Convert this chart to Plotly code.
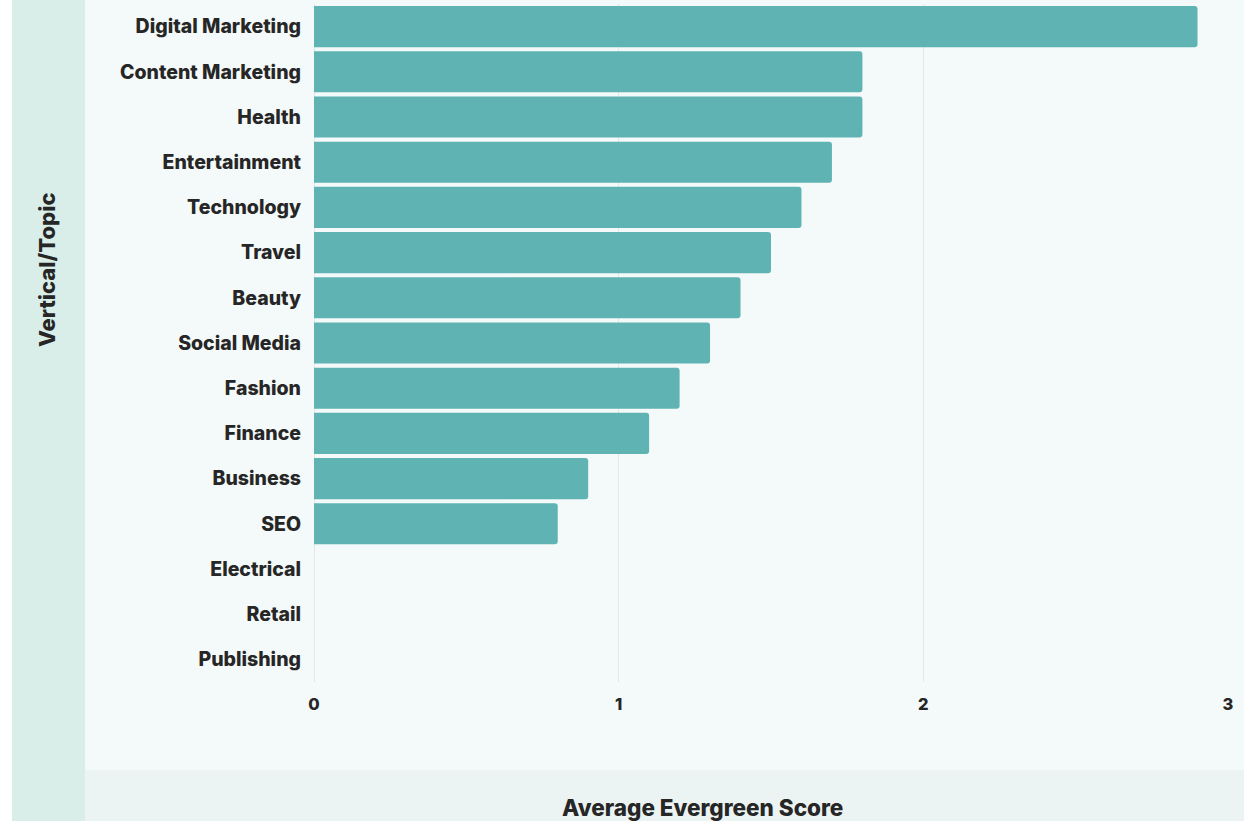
import plotly.graph_objects as go

# Average evergreen score per vertical/topic
topics = [
    "Digital Marketing", "Content Marketing", "Health", "Entertainment",
    "Technology", "Travel", "Beauty", "Social Media", "Fashion", "Finance",
    "Business", "SEO", "Electrical", "Retail", "Publishing",
]
scores = [2.9, 1.8, 1.8, 1.7, 1.6, 1.5, 1.4, 1.3, 1.2, 1.1, 0.9, 0.8, 0, 0, 0]
x_ticks = [0, 1, 2, 3]

BAR = "#5fb4b3"
TEXT = "#262626"
FONT = "Inter"

fig = go.Figure(
    go.Bar(
        x=scores,
        y=topics,
        orientation="h",
        marker=dict(color=BAR, cornerradius=3, line=dict(width=0)),
        hoverinfo="x+y",
    )
)

# Background panels: white strip, y-title band, x-title band
panels = [
    dict(x0=-0.40, x1=-0.3304, y0=-0.25, y1=1.05, color="#ffffff"),
    dict(x0=-0.3304, x1=-0.2505, y0=-0.25, y1=1.05, color="#daeee9"),
    dict(x0=-0.2505, x1=1.05, y0=-0.25, y1=-0.1298, color="#ebf3f3"),
]
shapes = [
    dict(type="rect", xref="paper", yref="paper", x0=p["x0"], x1=p["x1"],
         y0=p["y0"], y1=p["y1"], fillcolor=p["color"], line=dict(width=0),
         layer="below")
    for p in panels
]

fig.update_layout(
    width=1244,
    height=821,
    margin=dict(l=314, r=16, t=4, b=139),
    paper_bgcolor="#f4f9f9",
    plot_bgcolor="rgba(0,0,0,0)",
    bargap=0.09,
    showlegend=False,
    shapes=shapes,
    font=dict(family=FONT, color=TEXT, size=16, weight=800),
    xaxis=dict(
        range=[0, 3.0],
        tickvals=x_ticks,
        ticktext=[str(v) for v in x_ticks],
        showgrid=True,
        gridcolor="#e5e9e5",
        gridwidth=1,
        zeroline=True,
        zerolinecolor="#e5e9e5",
        zerolinewidth=1,
        showline=False,
        ticks="",
        ticklabelstandoff=10,
        tickfont=dict(family=FONT, size=16.5, color=TEXT, weight=800),
    ),
    yaxis=dict(
        categoryorder="array",
        categoryarray=topics[::-1],
        showgrid=False,
        zeroline=False,
        showline=False,
        ticks="",
        ticklabelstandoff=12,
        tickfont=dict(family=FONT, size=19.5, color=TEXT, weight=800),
    ),
    annotations=[
        dict(text="Vertical/Topic", xref="paper", yref="paper",
             x=-0.2921, y=0.6077, showarrow=False, textangle=-90,
             font=dict(family=FONT, size=22, color=TEXT, weight=800),
             xanchor="center", yanchor="middle"),
        dict(text="Average Evergreen Score", xref="paper", yref="paper",
             x=0.4256, y=-0.1858, showarrow=False,
             font=dict(family=FONT, size=22.5, color=TEXT, weight=800),
             xanchor="center", yanchor="middle"),
    ],
)

fig.write_html("out.html")
